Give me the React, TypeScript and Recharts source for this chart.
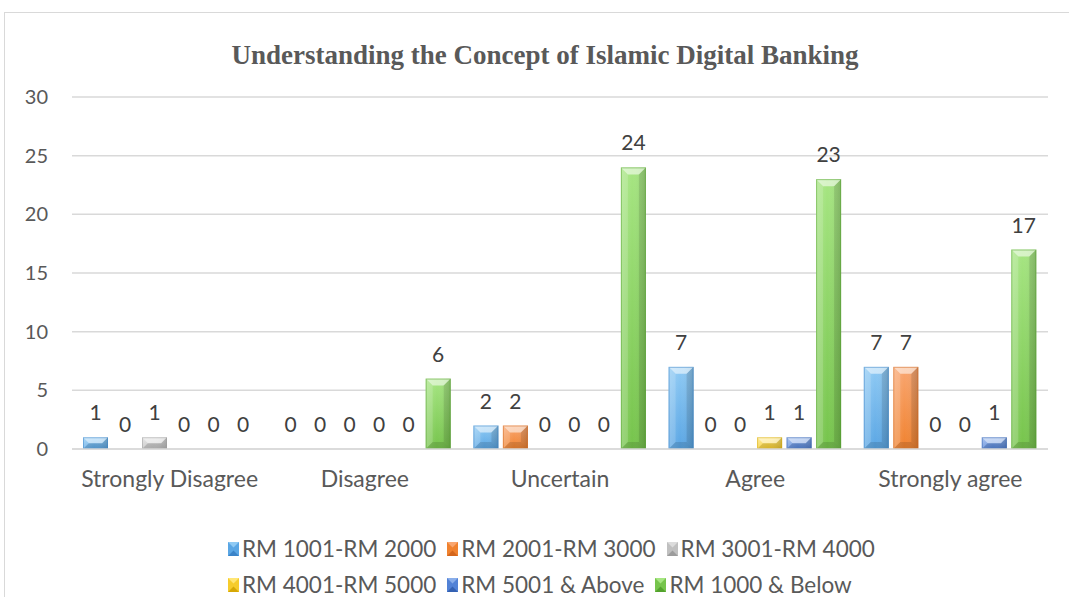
import React from 'react';
import { BarChart, Bar, XAxis, YAxis, CartesianGrid, LabelList } from 'recharts';

const categories = ['Strongly Disagree', 'Disagree', 'Uncertain', 'Agree', 'Strongly agree'];
const rm1001to2000 = [1, 0, 2, 7, 7];
const rm2001to3000 = [0, 0, 2, 0, 7];
const rm3001to4000 = [1, 0, 0, 0, 0];
const rm4001to5000 = [0, 0, 0, 1, 0];
const rm5001Above = [0, 0, 0, 1, 1];
const rm1000Below = [0, 6, 24, 23, 17];
const seriesNames = ['RM 1001-RM 2000', 'RM 2001-RM 3000', 'RM 3001-RM 4000', 'RM 4001-RM 5000', 'RM 5001 & Above', 'RM 1000 & Below'];
const yTicks = [0, 5, 10, 15, 20, 25, 30];
const title = 'Understanding the Concept of Islamic Digital Banking';

const palettes = [
  { light: '#8fcaf4', mid: '#5aa6e4', dark: '#3a83c8' },
  { light: '#f9a670', mid: '#f0822f', dark: '#d4661c' },
  { light: '#dcdcdc', mid: '#c0c0c0', dark: '#9c9c9c' },
  { light: '#ffe676', mid: '#f6cc2c', dark: '#d6a806' },
  { light: '#8aaeea', mid: '#5282d6', dark: '#3461b2' },
  { light: '#a6e582', mid: '#76c44c', dark: '#53a22d' },
];

const seriesValues = [rm1001to2000, rm2001to3000, rm3001to4000, rm4001to5000, rm5001Above, rm1000Below];
const series = seriesNames.map((name, i) => ({ key: 's' + i, name, values: seriesValues[i], pal: palettes[i] }));

const data = categories.map((cat, ci) => {
  const row: any = { cat };
  series.forEach((s) => { row[s.key] = s.values[ci]; });
  return row;
});

const FONT = 'Lato, "Open Sans", sans-serif';

const makeShape = (idx: number) => (props: any) => {
  const { x, y, width, height } = props;
  if (!height || height <= 0.5) return <g />;
  const w = width, h = height;
  const b = Math.min(w / 2, h / 2, 7);
  return (
    <g>
      <rect x={x} y={y} width={w} height={h} fill={`url(#vg${idx})`} />
      <rect x={x} y={y} width={w} height={h} fill="url(#hshade)" />
      <polygon points={`${x},${y} ${x + w},${y} ${x + w - b},${y + b} ${x + b},${y + b}`} fill="#ffffff" fillOpacity={0.55} />
      <polygon points={`${x},${y} ${x + b},${y + b} ${x + b},${y + h - b} ${x},${y + h}`} fill="#ffffff" fillOpacity={0.15} />
      <polygon points={`${x + w},${y} ${x + w - b},${y + b} ${x + w - b},${y + h - b} ${x + w},${y + h}`} fill="#000000" fillOpacity={0.1} />
      <polygon points={`${x},${y + h} ${x + b},${y + h - b} ${x + w - b},${y + h - b} ${x + w},${y + h}`} fill="#000000" fillOpacity={0.12} />
      <rect x={x + 0.5} y={y + 0.5} width={w - 1} height={h - 1} fill="none" stroke={palettes[idx].dark} strokeOpacity={0.5} />
    </g>
  );
};

const LegendIcon = ({ idx }: { idx: number }) => {
  const p = palettes[idx];
  return (
    <svg width={11} height={14} style={{ display: 'block' }}>
      <rect x={0} y={0} width={11} height={14} fill={p.mid} />
      <polygon points="0,0 11,0 5.5,5.5" fill={p.light} />
      <polygon points="0,14 11,14 5.5,8.5" fill={p.dark} />
    </svg>
  );
};

export default function App() {
  return (
    <div style={{ position: 'absolute', left: 0, top: 0, width: 1069, height: 597, overflow: 'hidden', background: '#fff' }}>
      <div style={{ position: 'absolute', left: 4, top: 12, width: 1100, height: 700, border: '1px solid #d9d9d9', boxSizing: 'border-box' }} />
      <div style={{ position: 'absolute', left: 545, top: 38, transform: 'translateX(-50%)', whiteSpace: 'nowrap', fontFamily: '"Liberation Serif", "Times New Roman", serif', fontWeight: 'bold', fontSize: 27, color: '#595959', lineHeight: '34px' }}>
        {title}
      </div>
      <div style={{ position: 'absolute', left: 0, top: 0 }}>
        <BarChart width={1069} height={597} data={data} margin={{ top: 97, right: 21, left: 12, bottom: 118 }} barSize={25} barGap={4.5}>
          <defs>
            {palettes.map((p, i) => (
              <linearGradient key={i} id={`vg${i}`} x1="0" y1="0" x2="0" y2="1">
                <stop offset="0%" stopColor={p.light} />
                <stop offset="100%" stopColor={p.mid} />
              </linearGradient>
            ))}
            <linearGradient id="hshade" x1="0" y1="0" x2="1" y2="0">
              <stop offset="0%" stopColor="#ffffff" stopOpacity={0.15} />
              <stop offset="45%" stopColor="#ffffff" stopOpacity={0} />
              <stop offset="100%" stopColor="#000000" stopOpacity={0.12} />
            </linearGradient>
          </defs>
          <CartesianGrid vertical={false} stroke="#d9d9d9" strokeWidth={1.5} />
          <XAxis dataKey="cat" tickLine={false} tickSize={0} tickMargin={22} axisLine={{ stroke: '#d9d9d9', strokeWidth: 1.5 }} tick={{ fill: '#595959', fontSize: 23, fontFamily: FONT }} interval={0} />
          <YAxis domain={[0, 30]} ticks={yTicks} width={60} axisLine={false} tickLine={false} tickSize={0} tickMargin={24} tick={{ fill: '#595959', fontSize: 20, fontFamily: FONT }} />
          {series.map((s, i) => (
            <Bar key={s.key} dataKey={s.key} name={s.name} fill={s.pal.mid} isAnimationActive={false} shape={makeShape(i)}>
              <LabelList dataKey={s.key} position="top" offset={17} style={{ fill: '#404040', fontSize: 21, fontFamily: FONT }} />
            </Bar>
          ))}
        </BarChart>
      </div>
      <div style={{ position: 'absolute', left: 228, top: 536, width: 730, display: 'flex', flexWrap: 'wrap', rowGap: 10, fontFamily: FONT, fontSize: 22.5, color: '#595959', lineHeight: '26px' }}>
        {series.map((s, i) => (
          <div key={s.key} style={{ display: 'flex', alignItems: 'center', marginRight: 11 }}>
            <LegendIcon idx={i} />
            <span style={{ marginLeft: 3 }}>{s.name}</span>
          </div>
        ))}
      </div>
    </div>
  );
}
